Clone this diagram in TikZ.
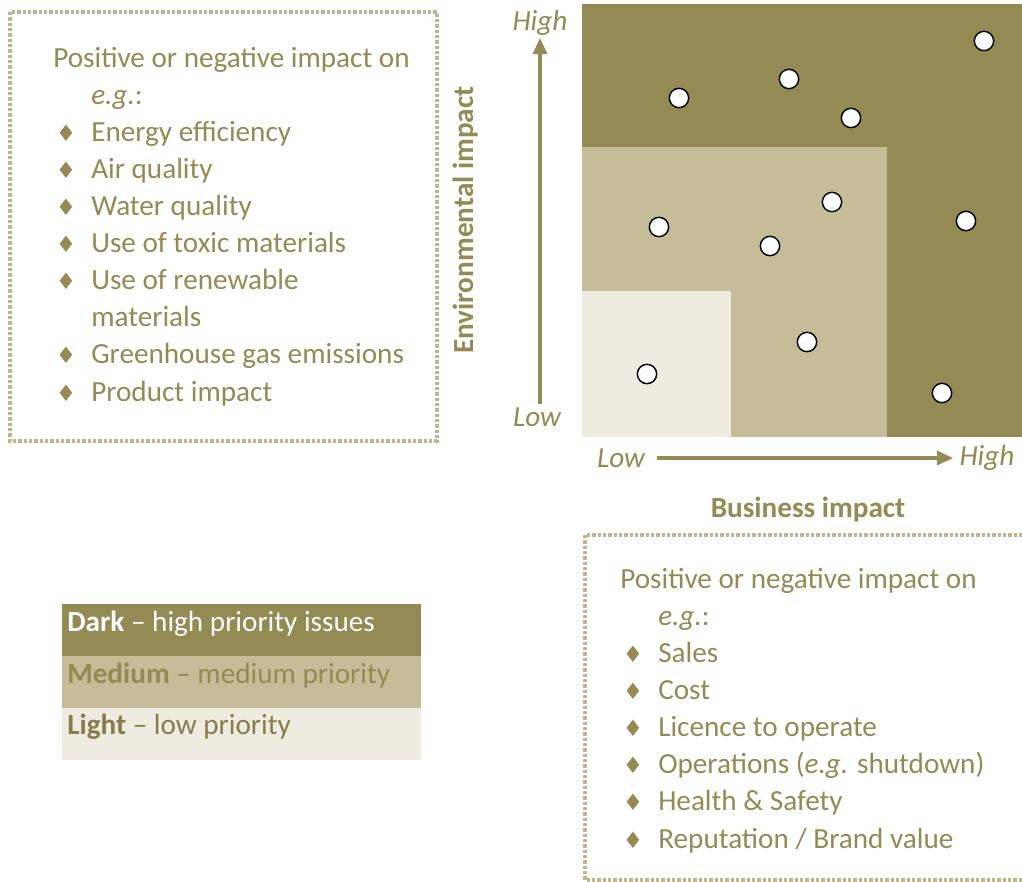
\documentclass[tikz,border=0pt]{standalone}
\usepackage{fontspec}
\setmainfont{Carlito}
\newfontfamily\symfont{DejaVu Sans}
\usetikzlibrary{arrows.meta}

\definecolor{darktan}{HTML}{948A54}
\definecolor{midtan}{HTML}{C4BD97}
\definecolor{lighttan}{HTML}{EEECE1}
\definecolor{dotline}{HTML}{BFB68E}
\definecolor{keytext}{HTML}{877D4C}

\newcommand{\bul}{\makebox[28.5pt][l]{\hspace{2pt}{\symfont\fontsize{17}{17}\selectfont ♦}}}
\newcommand{\egind}{\hspace*{28.5pt}}

\begin{document}
\begin{tikzpicture}[x=0.75pt, y=-0.75pt,
    every node/.style={font=\fontsize{21.9}{27.8}\selectfont, text=darktan, inner sep=0pt},
    listbox/.style={draw=dotline, line width=2.6pt, dash pattern=on 2.4pt off 1.6pt},
    listtext/.style={anchor=base west, align=left},
    axis/.style={darktan, line width=2.3pt, -{Triangle[width=10.5pt,length=12pt]}},
    axislabel/.style={font=\fontsize{21.9}{27.8}\selectfont\itshape},
    axistitle/.style={font=\fontsize{21.9}{27.8}\selectfont\bfseries},
    issue/.style={circle, draw=black, fill=white, line width=1.1pt, minimum size=14.5pt}]
    \useasboundingbox (0,0) rectangle (1022,882);

    % Draw priority zones
    \fill[darktan] (582,4) rectangle (1022,437);
    \fill[midtan] (582,147) rectangle (887,437);
    \fill[lighttan] (582,291) rectangle (731,437);

    % Draw issues
    \node[issue] (iss1) at (679,98) {};
    \node[issue] (iss2) at (789,79) {};
    \node[issue] (iss3) at (851,118) {};
    \node[issue] (iss4) at (984,41) {};
    \node[issue] (iss5) at (659,227) {};
    \node[issue] (iss6) at (770,246) {};
    \node[issue] (iss7) at (832,202) {};
    \node[issue] (iss8) at (966,221) {};
    \node[issue] (iss9) at (807,342) {};
    \node[issue] (iss10) at (647,374) {};
    \node[issue] (iss11) at (942,393) {};

    % Draw axes
    \coordinate (envlow) at (540,404);
    \coordinate (envhigh) at (540,38);
    \draw[axis] (envlow) -- (envhigh);
    \node[axislabel] (envhightxt) at (540,23) {High};
    \node[axislabel] (envlowtxt) at (537,417) {Low};
    \node[axistitle, rotate=90] (envtitle) at (466,220) {Environmental impact};

    \coordinate (buslow) at (657,458);
    \coordinate (bushigh) at (953,458);
    \draw[axis] (buslow) -- (bushigh);
    \node[axislabel] (buslowtxt) at (621,458) {Low};
    \node[axislabel] (bushightxt) at (987,458) {High};
    \node[axistitle] (bustitle) at (808,510) {Business impact};

    % Draw impact lists (anchored on the last line)
    \draw[listbox] (10,12) rectangle (437,441);
    \node[listtext] (envlist) at (53,401) {Positive or negative impact on\\
        \egind\textit{e.g.}:\\
        \bul Energy efficiency\\
        \bul Air quality\\
        \bul Water quality\\
        \bul Use of toxic materials\\
        \bul Use of renewable\\
        \egind materials\\
        \bul Greenhouse gas emissions\\
        \bul Product impact};

    \draw[listbox] (585,535) rectangle (1040,880);
    \node[listtext] (buslist) at (620,848) {Positive or negative impact on\\
        \egind\textit{e.g.}:\\
        \bul Sales\\
        \bul Cost\\
        \bul Licence to operate\\
        \bul Operations (\textit{e.g.} shutdown)\\
        \bul Health \& Safety\\
        \bul Reputation / Brand value};

    % Draw legend
    \fill[darktan] (62,604) rectangle (421,656);
    \fill[midtan] (62,656) rectangle (421,708);
    \fill[lighttan] (62,708) rectangle (421,760);
    \node[anchor=base west, text=white] (darkkey) at (67,631) {\textbf{Dark} – high priority issues};
    \node[anchor=base west] (midkey) at (67,683) {\textbf{Medium} – medium priority};
    \node[anchor=base west, text=keytext] (lightkey) at (67,734) {\textbf{Light} – low priority};
\end{tikzpicture}
\end{document}
